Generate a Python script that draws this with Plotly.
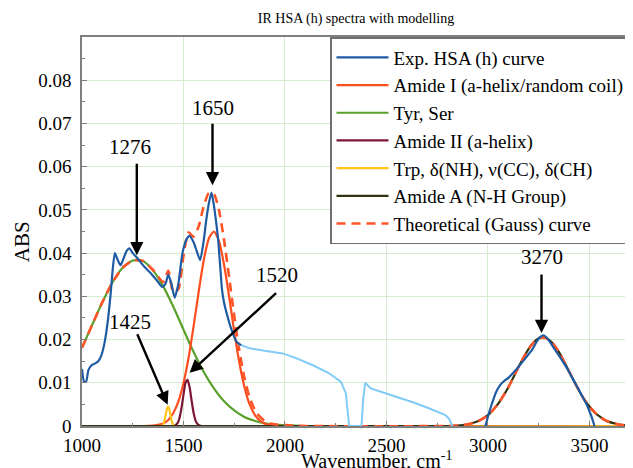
import plotly.graph_objects as go

# ---------------- data ----------------
exp_x = [1000, 1010, 1020, 1032, 1048, 1065, 1080, 1095, 1110, 1125, 1140, 1152, 1162, 1175, 1190,
         1205, 1220, 1233, 1250, 1270, 1290, 1310, 1340, 1370, 1395, 1412, 1425, 1440, 1457, 1475,
         1495, 1515, 1530, 1550, 1565, 1582, 1600, 1612, 1625, 1638, 1650, 1660, 1670, 1680, 1690,
         1700, 1712, 1735, 1760, 1784,
         None,
         2988, 3005, 3020, 3040, 3061, 3080, 3102, 3125, 3151, 3185, 3217, 3240, 3258, 3274, 3290,
         3300, 3330, 3364, 3400, 3430, 3460, 3487, 3510, 3525]
exp_y = [0.0132, 0.0103, 0.0102, 0.0130, 0.0141, 0.0145, 0.0150, 0.0163, 0.0190, 0.0235, 0.0300,
         0.0365, 0.0400, 0.0385, 0.0372, 0.0388, 0.0405, 0.0411, 0.0400, 0.0390, 0.0378, 0.0367,
         0.0353, 0.0336, 0.0322, 0.0330, 0.0350, 0.0330, 0.0297, 0.0330, 0.0400, 0.0432, 0.0440,
         0.0425, 0.0405, 0.0384, 0.0430, 0.0476, 0.0515, 0.0540, 0.0510, 0.0475, 0.0435, 0.0375,
         0.0315, 0.0285, 0.0262, 0.0225, 0.0196, 0.0187,
         None,
         0.0000, 0.0030, 0.0052, 0.0078, 0.0095, 0.0104, 0.0112, 0.0123, 0.0137, 0.0157, 0.0176,
         0.0195, 0.0206, 0.0210, 0.0204, 0.0198, 0.0177, 0.0153, 0.0125, 0.0099, 0.0073, 0.0049,
         0.0022, 0.0000]

excl_x = [1768, 1825, 1900, 1989, 2055, 2140, 2218, 2276, 2300, 2310, 2316, 2377, 2385, 2395,
          2423, 2480, 2546, 2630, 2709, 2760, 2791, 2810, 2824]
excl_y = [0.0190, 0.0180, 0.0174, 0.0168, 0.0157, 0.0140, 0.0122, 0.0102, 0.0076, 0.0030, 0.0000,
          0.0000, 0.0060, 0.0100, 0.0087, 0.0078, 0.0068, 0.0055, 0.0041, 0.0032, 0.0025, 0.0016,
          0.0000]

tyr_x = [1000, 1050, 1100, 1150, 1200, 1250, 1300, 1350, 1400, 1450, 1500, 1550, 1600, 1650,
         1700, 1750, 1800, 1850, 1900, 1950, 2000, 2100, 3700]
tyr_y = [0.0181, 0.0234, 0.0286, 0.0332, 0.0366, 0.0383, 0.0382, 0.0360, 0.0323, 0.0276, 0.0223,
         0.0171, 0.0125, 0.0087, 0.0057, 0.0036, 0.0021, 0.0012, 0.0006, 0.0003, 0.0002, 0.0000,
         0.0000]

amide1_x = [1000, 1300, 1350, 1400, 1425, 1450, 1475, 1500, 1525, 1550, 1575, 1600, 1625, 1650,
            1675, 1700, 1725, 1750, 1775, 1800, 1825, 1850, 1875, 1900, 1925, 1950, 2000, 3700]
amide1_y = [0.0000, 0.0000, 0.0001, 0.0006, 0.0014, 0.0030, 0.0057, 0.0099, 0.0158, 0.0231,
            0.0311, 0.0384, 0.0434, 0.0450, 0.0428, 0.0373, 0.0299, 0.0219, 0.0147, 0.0091,
            0.0051, 0.0027, 0.0013, 0.0006, 0.0002, 0.0001, 0.0000, 0.0000]

amide2_x = [1000, 1440, 1450, 1460, 1470, 1480, 1490, 1500, 1510, 1520, 1530, 1540, 1550, 1560,
            1570, 1580, 1590, 3700]
amide2_y = [0.0000, 0.0000, 0.0000, 0.0002, 0.0006, 0.0018, 0.0041, 0.0072, 0.0100, 0.0107,
            0.0090, 0.0059, 0.0030, 0.0012, 0.0004, 0.0001, 0.0000, 0.0000]

trp_x = [1000, 1390, 1395, 1400, 1405, 1410, 1415, 1420, 1425, 1430, 1435, 1440, 1445, 1450,
         1455, 1460, 3700]
trp_y = [0.0000, 0.0000, 0.0001, 0.0004, 0.0010, 0.0020, 0.0032, 0.0042, 0.0045, 0.0039, 0.0027,
         0.0016, 0.0007, 0.0003, 0.0001, 0.0000, 0.0000]

amideA_x = [1000, 2800, 2850, 2875, 2900, 2925, 2950, 2975, 3000, 3025, 3050, 3075, 3100, 3125,
            3150, 3175, 3200, 3225, 3250, 3275, 3300, 3325, 3350, 3375, 3400, 3425, 3450, 3475,
            3500, 3525, 3550, 3575, 3600, 3625, 3650, 3675, 3700]
amideA_y = [0.0000, 0.0000, 0.0001, 0.0002, 0.0004, 0.0007, 0.0011, 0.0017, 0.0025, 0.0037,
            0.0051, 0.0069, 0.0089, 0.0112, 0.0136, 0.0158, 0.0178, 0.0193, 0.0203, 0.0205,
            0.0200, 0.0188, 0.0171, 0.0149, 0.0126, 0.0103, 0.0081, 0.0061, 0.0045, 0.0032,
            0.0022, 0.0014, 0.0009, 0.0006, 0.0003, 0.0002, 0.0001]

theo_x = [1000, 1050, 1100, 1150, 1200, 1250, 1300, 1350, 1400, 1425, 1450, 1475, 1500, 1525,
          1550, 1575, 1600, 1625, 1650, 1675, 1700, 1725, 1750, 1775, 1800, 1825, 1850, 1875,
          1900, 1925, 1950, 2000, 2100, 2800, 2850, 2875, 2900, 2925, 2950, 2975, 3000, 3025,
          3050, 3075, 3100, 3125, 3150, 3175, 3200, 3225, 3250, 3275, 3300, 3325, 3350, 3375,
          3400, 3425, 3450, 3475, 3500, 3525, 3550, 3575, 3600, 3625, 3650, 3675, 3700]
theo_y = [0.0181, 0.0234, 0.0286, 0.0332, 0.0366, 0.0383, 0.0382, 0.0361, 0.0333, 0.0359, 0.0309,
          0.0317, 0.0394, 0.0448, 0.0438, 0.0462, 0.0509, 0.0539, 0.0537, 0.0499, 0.0430, 0.0344,
          0.0255, 0.0175, 0.0112, 0.0067, 0.0039, 0.0022, 0.0012, 0.0006, 0.0004, 0.0002, 0.0000,
          0.0000, 0.0001, 0.0002, 0.0004, 0.0007, 0.0011, 0.0017, 0.0025, 0.0037, 0.0051, 0.0069,
          0.0089, 0.0112, 0.0136, 0.0158, 0.0178, 0.0193, 0.0203, 0.0205, 0.0200, 0.0188, 0.0171,
          0.0149, 0.0126, 0.0103, 0.0081, 0.0061, 0.0045, 0.0032, 0.0022, 0.0014, 0.0009, 0.0006,
          0.0003, 0.0002, 0.0001]

peak_labels = ["1276", "1650", "1520", "1425", "3270"]

# ---------------- figure ----------------
FONT = "Liberation Serif, Times New Roman, serif"
fig = go.Figure()

def comp(x, y, name, color, rank, width=2.2, dash="solid", shape="spline"):
    fig.add_trace(go.Scatter(x=x, y=y, mode="lines", name=name, legendrank=rank,
                             line=dict(color=color, width=width, dash=dash, shape=shape,
                                       smoothing=0.6 if shape == "spline" else None)))

comp(tyr_x, tyr_y, "Tyr, Ser", "#5aa02c", 3)
comp(amide1_x, amide1_y, "Amide I (a-helix/random coil)", "#ff4d1f", 2)
comp(amide2_x, amide2_y, "Amide II (a-helix)", "#7d1535", 4)
comp(trp_x, trp_y, "Trp, δ(NH), ν(CC), δ(CH)", "#ffc41a", 5)
comp(amideA_x, amideA_y, "Amide A (N-H Group)", "#33330f", 6)
comp(theo_x, theo_y, "Theoretical (Gauss) curve", "#ff5426", 7, width=2.6, dash="9px,6px")
fig.add_trace(go.Scatter(x=excl_x, y=excl_y, mode="lines", showlegend=False,
                         line=dict(color="#80ccf7", width=2)))
fig.add_trace(go.Scatter(x=exp_x, y=exp_y, mode="lines", name="Exp. HSA (h) curve", legendrank=1,
                         connectgaps=False,
                         line=dict(color="#1f5ba3", width=2.2, shape="spline", smoothing=0.6)))

# peak arrows (tips in data coordinates, tails as pixel offsets)
arrows = [(1270, 0.0395, 0, -93), (1643, 0.0557, 0, -63), (1530, 0.0123, 88, -81),
          (1422, 0.0049, -31, -72), (3264, 0.0215, 0, -60)]
label_pos = [(1236, 0.0645), (1643, 0.0735), (1963, 0.0349), (1236, 0.0240), (3264, 0.0391)]
for (x, y, ax, ay), (lx, ly), txt in zip(arrows, label_pos, peak_labels):
    fig.add_annotation(x=x, y=y, ax=ax, ay=ay, text="", showarrow=True, arrowhead=2,
                       arrowsize=1.1, arrowwidth=2.4, arrowcolor="black", standoff=0)
    fig.add_annotation(x=lx, y=ly, text=txt, showarrow=False,
                       font=dict(family=FONT, size=21, color="black"))

# axis titles
fig.add_annotation(xref="paper", yref="paper", x=-0.109, y=0.473, text="ABS", textangle=-90,
                   xanchor="center", yanchor="middle",
                   showarrow=False, font=dict(family=FONT, size=21, color="black"))
fig.add_annotation(xref="paper", yref="paper", x=0.538, y=-0.088, xanchor="center",
                   yanchor="middle",
                   text="Wavenumber, cm<sup>-1</sup>", showarrow=False,
                   font=dict(family=FONT, size=20, color="black"))

grid = "#d6ebcf"
axis_common = dict(showline=True, linecolor="#7f7f7f", linewidth=1.5, mirror=True,
                   ticks="inside", ticklen=5, tickcolor="#7f7f7f", tickwidth=1.2,
                   showgrid=True, gridcolor=grid, gridwidth=1, zeroline=False,
                   tickfont=dict(family=FONT, size=19, color="black"))

# the page adds an 8 px body margin, so the figure is 8 px smaller than the window
fig.update_layout(
    width=625, height=460,
    margin=dict(l=74, r=1, t=29, b=42),
    paper_bgcolor="white", plot_bgcolor="white",
    title=dict(text="IR HSA (h) spectra with modelling", x=0.5, xref="paper",
               y=1 - 10 / 460, yanchor="middle",
               font=dict(family=FONT, size=14, color="black")),
    xaxis=dict(range=[1000, 3700], tickvals=[1000, 1500, 2000, 2500, 3000, 3500],
               ticklabelstandoff=1,
               minor=dict(dtick=250, tick0=1000, ticks="inside", ticklen=3, tickcolor="#7f7f7f",
                          showgrid=False),
               **axis_common),
    yaxis=dict(range=[0, 0.09], tickvals=[0, 0.01, 0.02, 0.03, 0.04, 0.05, 0.06, 0.07, 0.08],
               ticktext=["0", "0.01", "0.02", "0.03", "0.04", "0.05", "0.06", "0.07", "0.08"],
               ticklabelstandoff=5,
               minor=dict(dtick=0.005, tick0=0, ticks="inside", ticklen=3, tickcolor="#7f7f7f",
                          showgrid=False),
               **axis_common),
    legend=dict(x=1, xanchor="right", y=1, yanchor="top", bgcolor="white",
                bordercolor="#6f6f6f", borderwidth=1.5, itemwidth=52,
                font=dict(family=FONT, size=19, color="black"), tracegroupgap=0),
    showlegend=True,
)

fig.write_html("out.html")
